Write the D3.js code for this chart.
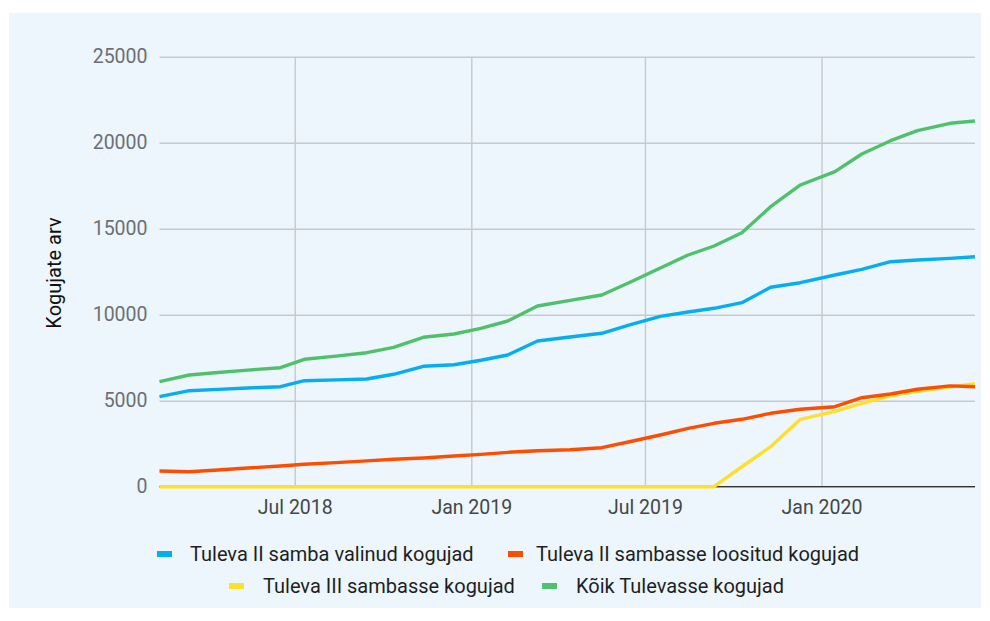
<!DOCTYPE html>
<html>
<head>
<meta charset="utf-8">
<script src="https://cdn.jsdelivr.net/npm/d3@7"></script>
<style>
  html, body { margin: 0; padding: 0; background: #ffffff; }
  svg { display: block; font-family: Roboto, "Noto Sans", sans-serif; }
</style>
</head>
<body>
<svg id="chart" width="990" height="621"></svg>
<script>
const dates = [
  "2018-02-10","2018-03-13","2018-04-12","2018-05-13","2018-06-16","2018-07-11",
  "2018-08-13","2018-09-14","2018-10-12","2018-11-12","2018-12-14","2019-01-11",
  "2019-02-08","2019-03-11","2019-04-14","2019-05-17","2019-06-16","2019-07-17",
  "2019-08-15","2019-09-11","2019-10-10","2019-11-09","2019-12-10","2020-01-15",
  "2020-02-12","2020-03-13","2020-04-10","2020-05-14","2020-06-09"
];
const seriesNames = [
  "Tuleva II samba valinud kogujad",
  "Tuleva II sambasse loositud kogujad",
  "Tuleva III sambasse kogujad",
  "Kõik Tulevasse kogujad"
];
const valinud = [5233,5581,5660,5740,5814,6163,6210,6262,6535,7000,7090,7350,7657,8471,8700,8918,9419,9906,10157,10372,10698,11593,11860,12308,12639,13081,13180,13276,13372];
const loositud = [913,872,971,1087,1203,1302,1400,1500,1593,1669,1785,1882,1998,2093,2150,2267,2628,3006,3395,3686,3919,4267,4500,4651,5174,5390,5663,5860,5814];
const kolmas = [0,0,0,0,0,0,0,0,0,0,0,0,0,0,0,0,0,0,0,0,1160,2326,3919,4380,4849,5280,5540,5800,5990];
const koik = [6105,6494,6640,6780,6919,7407,7590,7791,8105,8686,8878,9200,9634,10506,10833,11145,11900,12720,13471,13994,14767,16279,17541,18314,19343,20116,20698,21128,21262];
const colors = ["#06aeef","#ff4d00","#fde02b","#4fc16a"];
const yTicks = [0,5000,10000,15000,20000,25000];
const xTickDates = ["2018-07-01","2019-01-01","2019-07-01","2020-01-01"];
const xTickLabels = ["Jul 2018","Jan 2019","Jul 2019","Jan 2020"];
const yTitle = "Kogujate arv";

const parse = d3.timeParse("%Y-%m-%d");
const xs = dates.map(parse);
const allSeries = [valinud, loositud, kolmas, koik];
const drawOrder = [3, 0, 2, 1];

const svg = d3.select("#chart");
svg.append("rect").attr("x",9).attr("y",13).attr("width",972).attr("height",595).attr("fill","#ecf6fc");

const pLeft = 159.5, pRight = 975, pTop = 56.7, pBottom = 486.7;
const x = d3.scaleTime().domain([xs[0], xs[xs.length-1]]).range([pLeft, pRight]);
const y = d3.scaleLinear().domain([0, 25000]).range([pBottom, pTop]);

const yAxis = d3.axisLeft(y).tickValues(yTicks).tickSize(-(pRight-pLeft)).tickPadding(12).tickFormat(d3.format("d"));
const gy = svg.append("g").attr("transform",`translate(${pLeft},0)`).call(yAxis);
gy.select(".domain").remove();
gy.selectAll(".tick line").attr("stroke","#c5cad0").attr("stroke-width",1.4);
gy.selectAll(".tick text").attr("fill","#6b6f74").attr("font-size",19.5).attr("font-family","Roboto");

const xAxis = d3.axisBottom(x).tickValues(xTickDates.map(parse)).tickSize(-(pBottom-pTop))
  .tickPadding(13).tickFormat((d,i)=>xTickLabels[i]);
const gx = svg.append("g").attr("transform",`translate(0,${pBottom})`).call(xAxis);
gx.select(".domain").remove();
gx.selectAll(".tick line").attr("stroke","#c5cad0").attr("stroke-width",1.4);
gx.selectAll(".tick text").attr("fill","#444748").attr("font-size",19.5).attr("font-family","Roboto");

svg.append("line").attr("x1",pLeft).attr("x2",pRight).attr("y1",y(0)).attr("y2",y(0))
  .attr("stroke","#333").attr("stroke-width",1.2);

const line = d3.line().x((d,i)=>x(xs[i])).y(d=>y(d));
drawOrder.forEach(k => {
  svg.append("path").datum(allSeries[k]).attr("d",line).attr("fill","none")
    .attr("stroke",colors[k]).attr("stroke-width",3.4).attr("stroke-linejoin","round");
});

svg.append("text").attr("transform","translate(61,273) rotate(-90)")
  .attr("text-anchor","middle").attr("font-size",20).attr("fill","#111").text(yTitle);

// legend: [swatch x, text x, row y]
const legendPos = [[157,190,554],[508,536,554],[229,263,586],[542,576,586]];
seriesNames.forEach((name,k)=>{
  const [sx,tx,ly] = legendPos[k];
  svg.append("rect").attr("x",sx).attr("y",ly-3).attr("width",15).attr("height",6).attr("fill",colors[k]);
  svg.append("text").attr("x",tx).attr("y",ly).attr("dominant-baseline","central")
    .attr("font-size",20).attr("fill","#1f1f1f").text(name);
});
</script>
</body>
</html>
